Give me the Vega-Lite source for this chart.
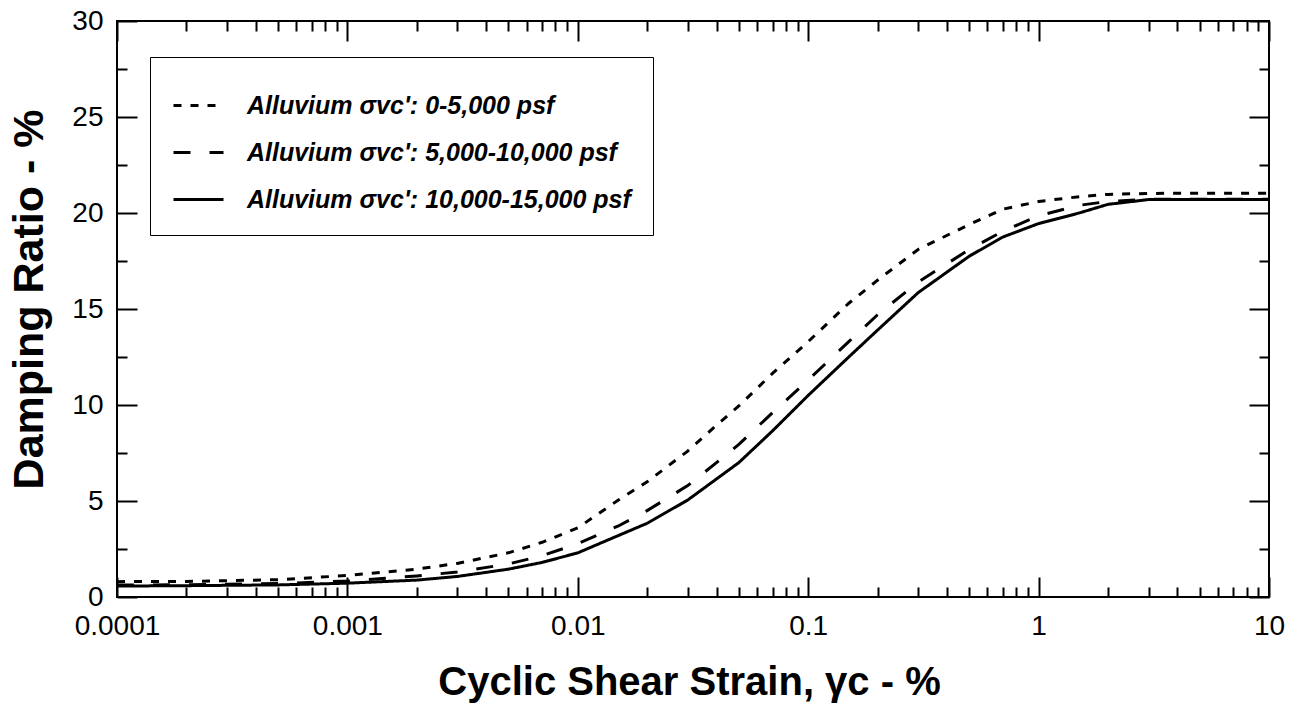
{
  "$schema": "https://vega.github.io/schema/vega-lite/v6.json",
  "width": 1152,
  "height": 576,
  "autosize": {"type": "none"},
  "padding": {"left": 117, "top": 21, "right": 34, "bottom": 112},
  "background": "white",
  "config": {
    "view": {"stroke": "black", "strokeWidth": 2},
    "axis": {"grid": false, "domain": false, "labelColor": "black", "titleColor": "black", "tickColor": "black", "labelFont": "Liberation Sans", "titleFont": "Liberation Sans"},
    "font": "Liberation Sans"
  },
  "data": {
    "values": [
      {"s": "Alluvium σvc': 0-5,000 psf", "x": 0.0001, "y": 0.8},
      {"s": "Alluvium σvc': 0-5,000 psf", "x": 0.0002, "y": 0.81},
      {"s": "Alluvium σvc': 0-5,000 psf", "x": 0.0005, "y": 0.9},
      {"s": "Alluvium σvc': 0-5,000 psf", "x": 0.001, "y": 1.12},
      {"s": "Alluvium σvc': 0-5,000 psf", "x": 0.002, "y": 1.45},
      {"s": "Alluvium σvc': 0-5,000 psf", "x": 0.003, "y": 1.75},
      {"s": "Alluvium σvc': 0-5,000 psf", "x": 0.005, "y": 2.3},
      {"s": "Alluvium σvc': 0-5,000 psf", "x": 0.007, "y": 2.85},
      {"s": "Alluvium σvc': 0-5,000 psf", "x": 0.01, "y": 3.6},
      {"s": "Alluvium σvc': 0-5,000 psf", "x": 0.015, "y": 5.05},
      {"s": "Alluvium σvc': 0-5,000 psf", "x": 0.02, "y": 6.0},
      {"s": "Alluvium σvc': 0-5,000 psf", "x": 0.03, "y": 7.6},
      {"s": "Alluvium σvc': 0-5,000 psf", "x": 0.04, "y": 8.95},
      {"s": "Alluvium σvc': 0-5,000 psf", "x": 0.05, "y": 9.95},
      {"s": "Alluvium σvc': 0-5,000 psf", "x": 0.07, "y": 11.65},
      {"s": "Alluvium σvc': 0-5,000 psf", "x": 0.1, "y": 13.3},
      {"s": "Alluvium σvc': 0-5,000 psf", "x": 0.15, "y": 15.3},
      {"s": "Alluvium σvc': 0-5,000 psf", "x": 0.2, "y": 16.5},
      {"s": "Alluvium σvc': 0-5,000 psf", "x": 0.3, "y": 18.1},
      {"s": "Alluvium σvc': 0-5,000 psf", "x": 0.5, "y": 19.4},
      {"s": "Alluvium σvc': 0-5,000 psf", "x": 0.7, "y": 20.2},
      {"s": "Alluvium σvc': 0-5,000 psf", "x": 1, "y": 20.6},
      {"s": "Alluvium σvc': 0-5,000 psf", "x": 1.5, "y": 20.85},
      {"s": "Alluvium σvc': 0-5,000 psf", "x": 2, "y": 20.97},
      {"s": "Alluvium σvc': 0-5,000 psf", "x": 3, "y": 21.02},
      {"s": "Alluvium σvc': 0-5,000 psf", "x": 5, "y": 21.03},
      {"s": "Alluvium σvc': 0-5,000 psf", "x": 10, "y": 21.03},
      {"s": "Alluvium σvc': 5,000-10,000 psf", "x": 0.0001, "y": 0.62},
      {"s": "Alluvium σvc': 5,000-10,000 psf", "x": 0.0002, "y": 0.64},
      {"s": "Alluvium σvc': 5,000-10,000 psf", "x": 0.0005, "y": 0.7},
      {"s": "Alluvium σvc': 5,000-10,000 psf", "x": 0.001, "y": 0.83},
      {"s": "Alluvium σvc': 5,000-10,000 psf", "x": 0.002, "y": 1.1},
      {"s": "Alluvium σvc': 5,000-10,000 psf", "x": 0.003, "y": 1.3},
      {"s": "Alluvium σvc': 5,000-10,000 psf", "x": 0.005, "y": 1.72},
      {"s": "Alluvium σvc': 5,000-10,000 psf", "x": 0.007, "y": 2.15},
      {"s": "Alluvium σvc': 5,000-10,000 psf", "x": 0.01, "y": 2.78},
      {"s": "Alluvium σvc': 5,000-10,000 psf", "x": 0.015, "y": 3.7},
      {"s": "Alluvium σvc': 5,000-10,000 psf", "x": 0.02, "y": 4.5},
      {"s": "Alluvium σvc': 5,000-10,000 psf", "x": 0.03, "y": 5.8},
      {"s": "Alluvium σvc': 5,000-10,000 psf", "x": 0.04, "y": 7.0},
      {"s": "Alluvium σvc': 5,000-10,000 psf", "x": 0.05, "y": 7.95},
      {"s": "Alluvium σvc': 5,000-10,000 psf", "x": 0.07, "y": 9.6},
      {"s": "Alluvium σvc': 5,000-10,000 psf", "x": 0.1, "y": 11.3},
      {"s": "Alluvium σvc': 5,000-10,000 psf", "x": 0.15, "y": 13.3},
      {"s": "Alluvium σvc': 5,000-10,000 psf", "x": 0.2, "y": 14.7},
      {"s": "Alluvium σvc': 5,000-10,000 psf", "x": 0.3, "y": 16.4},
      {"s": "Alluvium σvc': 5,000-10,000 psf", "x": 0.5, "y": 18.1},
      {"s": "Alluvium σvc': 5,000-10,000 psf", "x": 0.7, "y": 19.05},
      {"s": "Alluvium σvc': 5,000-10,000 psf", "x": 1, "y": 19.85},
      {"s": "Alluvium σvc': 5,000-10,000 psf", "x": 1.5, "y": 20.4},
      {"s": "Alluvium σvc': 5,000-10,000 psf", "x": 2, "y": 20.6},
      {"s": "Alluvium σvc': 5,000-10,000 psf", "x": 3, "y": 20.72},
      {"s": "Alluvium σvc': 5,000-10,000 psf", "x": 5, "y": 20.72},
      {"s": "Alluvium σvc': 5,000-10,000 psf", "x": 10, "y": 20.72},
      {"s": "Alluvium σvc': 10,000-15,000 psf", "x": 0.0001, "y": 0.57},
      {"s": "Alluvium σvc': 10,000-15,000 psf", "x": 0.0002, "y": 0.59},
      {"s": "Alluvium σvc': 10,000-15,000 psf", "x": 0.0005, "y": 0.63},
      {"s": "Alluvium σvc': 10,000-15,000 psf", "x": 0.001, "y": 0.72},
      {"s": "Alluvium σvc': 10,000-15,000 psf", "x": 0.002, "y": 0.88},
      {"s": "Alluvium σvc': 10,000-15,000 psf", "x": 0.003, "y": 1.07},
      {"s": "Alluvium σvc': 10,000-15,000 psf", "x": 0.005, "y": 1.45},
      {"s": "Alluvium σvc': 10,000-15,000 psf", "x": 0.007, "y": 1.8},
      {"s": "Alluvium σvc': 10,000-15,000 psf", "x": 0.01, "y": 2.3},
      {"s": "Alluvium σvc': 10,000-15,000 psf", "x": 0.02, "y": 3.84},
      {"s": "Alluvium σvc': 10,000-15,000 psf", "x": 0.03, "y": 5.05},
      {"s": "Alluvium σvc': 10,000-15,000 psf", "x": 0.05, "y": 7.0},
      {"s": "Alluvium σvc': 10,000-15,000 psf", "x": 0.07, "y": 8.65},
      {"s": "Alluvium σvc': 10,000-15,000 psf", "x": 0.1, "y": 10.5},
      {"s": "Alluvium σvc': 10,000-15,000 psf", "x": 0.15, "y": 12.5},
      {"s": "Alluvium σvc': 10,000-15,000 psf", "x": 0.2, "y": 13.9},
      {"s": "Alluvium σvc': 10,000-15,000 psf", "x": 0.3, "y": 15.85},
      {"s": "Alluvium σvc': 10,000-15,000 psf", "x": 0.5, "y": 17.75},
      {"s": "Alluvium σvc': 10,000-15,000 psf", "x": 0.7, "y": 18.75},
      {"s": "Alluvium σvc': 10,000-15,000 psf", "x": 1, "y": 19.45},
      {"s": "Alluvium σvc': 10,000-15,000 psf", "x": 1.5, "y": 20.0},
      {"s": "Alluvium σvc': 10,000-15,000 psf", "x": 2, "y": 20.45},
      {"s": "Alluvium σvc': 10,000-15,000 psf", "x": 3, "y": 20.7},
      {"s": "Alluvium σvc': 10,000-15,000 psf", "x": 5, "y": 20.7},
      {"s": "Alluvium σvc': 10,000-15,000 psf", "x": 10, "y": 20.7}
    ]
  },
  "resolve": {"axis": {"x": "independent", "y": "independent"}},
  "layer": [
    {
      "mark": {"type": "line", "color": "black", "strokeWidth": 3, "strokeCap": "butt", "clip": true},
      "encoding": {
        "x": {"field": "x", "type": "quantitative",
          "scale": {"type": "log", "domain": [0.0001, 10], "nice": false},
          "axis": {"orient": "bottom", "values": [0.0001, 0.001, 0.01, 0.1, 1, 10], "format": "~g", "ticks": false, "labelFontSize": 28, "labelPadding": 15, "labelFlush": false, "labelOverlap": false,
            "title": "Cyclic Shear Strain, γc - %", "titleFontSize": 40, "titleFontWeight": "bold", "titleX": 572, "titleY": 97, "titleAlign": "center", "titleBaseline": "alphabetic"}},
        "y": {"field": "y", "type": "quantitative",
          "scale": {"domain": [0, 30], "nice": false, "zero": false},
          "axis": {"orient": "left", "values": [0, 5, 10, 15, 20, 25, 30], "ticks": false, "labelFontSize": 28, "labelPadding": 14, "labelFlush": false, "labelOverlap": false,
            "title": "Damping Ratio - %", "titleFontSize": 43, "titleFontWeight": "bold", "titleX": -88, "titleY": 278, "titleAngle": 270, "titleAlign": "center", "titleBaseline": "middle"}},
        "strokeDash": {"field": "s", "type": "nominal",
          "scale": {"domain": ["Alluvium σvc': 0-5,000 psf", "Alluvium σvc': 5,000-10,000 psf", "Alluvium σvc': 10,000-15,000 psf"], "range": [[8, 9], [17, 19], [1, 0]]},
          "legend": {"orient": "none", "legendX": 33, "legendY": 36, "title": null, "labelFont": "Liberation Sans", "labelFontSize": 25, "labelFontStyle": "italic", "labelFontWeight": "bold", "labelColor": "black", "labelLimit": 0, "labelOffset": 22,
            "symbolType": "stroke", "symbolSize": 2500, "symbolStrokeWidth": 3, "symbolStrokeColor": "black", "rowPadding": 7, "padding": 22, "strokeColor": "black", "fillColor": "white"}}
      }
    },
    {
      "mark": {"type": "point", "opacity": 0},
      "encoding": {
        "x": {"field": "x", "type": "quantitative", "axis": {"orient": "bottom", "values": [0.0001, 0.001, 0.01, 0.1, 1, 10], "labels": false, "tickSize": -20, "tickWidth": 2, "title": null}},
        "y": {"field": "y", "type": "quantitative", "axis": {"orient": "left", "values": [0, 5, 10, 15, 20, 25, 30], "labels": false, "tickSize": -20, "tickWidth": 2, "title": null}}
      }
    },
    {
      "mark": {"type": "point", "opacity": 0},
      "encoding": {
        "x": {"field": "x", "type": "quantitative", "axis": {"orient": "bottom", "values": [0.0002, 0.0003, 0.0004, 0.0005, 0.0006, 0.0007, 0.0008, 0.0009, 0.002, 0.003, 0.004, 0.005, 0.006, 0.007, 0.008, 0.009, 0.02, 0.03, 0.04, 0.05, 0.06, 0.07, 0.08, 0.09, 0.2, 0.3, 0.4, 0.5, 0.6, 0.7, 0.8, 0.9, 2, 3, 4, 5, 6, 7, 8, 9], "labels": false, "tickSize": -10, "tickWidth": 2, "title": null}},
        "y": {"field": "y", "type": "quantitative", "axis": {"orient": "left", "values": [2.5, 7.5, 12.5, 17.5, 22.5, 27.5], "labels": false, "tickSize": -10, "tickWidth": 2, "title": null}}
      }
    },
    {
      "mark": {"type": "point", "opacity": 0},
      "encoding": {
        "x": {"field": "x", "type": "quantitative", "axis": {"orient": "top", "values": [0.0001, 0.001, 0.01, 0.1, 1, 10], "labels": false, "tickSize": -20, "tickWidth": 2, "title": null}},
        "y": {"field": "y", "type": "quantitative", "axis": {"orient": "right", "values": [0, 5, 10, 15, 20, 25, 30], "labels": false, "tickSize": -20, "tickWidth": 2, "title": null}}
      }
    },
    {
      "mark": {"type": "point", "opacity": 0},
      "encoding": {
        "x": {"field": "x", "type": "quantitative", "axis": {"orient": "top", "values": [0.0002, 0.0003, 0.0004, 0.0005, 0.0006, 0.0007, 0.0008, 0.0009, 0.002, 0.003, 0.004, 0.005, 0.006, 0.007, 0.008, 0.009, 0.02, 0.03, 0.04, 0.05, 0.06, 0.07, 0.08, 0.09, 0.2, 0.3, 0.4, 0.5, 0.6, 0.7, 0.8, 0.9, 2, 3, 4, 5, 6, 7, 8, 9], "labels": false, "tickSize": -10, "tickWidth": 2, "title": null}},
        "y": {"field": "y", "type": "quantitative", "axis": {"orient": "right", "values": [2.5, 7.5, 12.5, 17.5, 22.5, 27.5], "labels": false, "tickSize": -10, "tickWidth": 2, "title": null}}
      }
    }
  ]
}
